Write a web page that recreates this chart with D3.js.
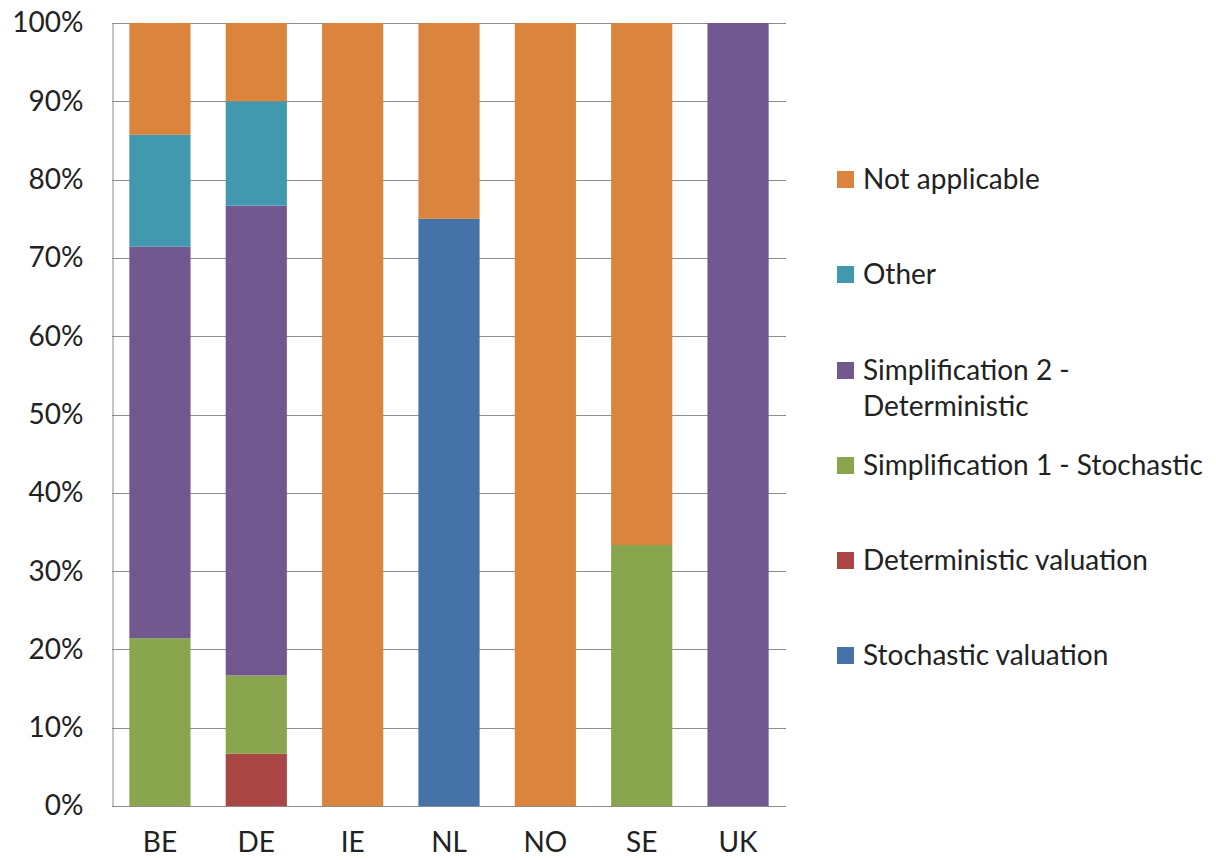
<!DOCTYPE html>
<html>
<head>
<meta charset="utf-8">
<script src="https://cdn.jsdelivr.net/npm/d3@7"></script>
<style>
  html, body { margin: 0; padding: 0; background: #fff; }
  svg { display: block; font-family: Lato, "Open Sans", sans-serif; }
</style>
</head>
<body>
<svg id="chart" width="1216" height="860"></svg>
<script>
// Countries on the x axis
const countries = ["BE", "DE", "IE", "NL", "NO", "SE", "UK"];

// Valuation approaches, stacked from the bottom up
const series = [
  "Stochastic valuation",
  "Deterministic valuation",
  "Simplification 1 - Stochastic",
  "Simplification 2 - Deterministic",
  "Other",
  "Not applicable"
];

// Share of each approach per country (%), same order as countries
const stochasticValuation    = [0,     0,     0,   75, 0,   0,     0];
const deterministicValuation = [0,     6.67,  0,   0,  0,   0,     0];
const simplification1        = [21.43, 10.0,  0,   0,  0,   33.33, 0];
const simplification2        = [50.0,  60.0,  0,   0,  0,   0,     100];
const other                  = [14.29, 13.33, 0,   0,  0,   0,     0];
const notApplicable          = [14.28, 10.0,  100, 25, 100, 66.67, 0];

const seriesValues = [stochasticValuation, deterministicValuation, simplification1,
                      simplification2, other, notApplicable];

const colors = ["#4572A7", "#AA4643", "#89A54E", "#71588F", "#4198AF", "#DB843D"];

const yTicks = [0, 10, 20, 30, 40, 50, 60, 70, 80, 90, 100];

const rows = countries.map((c, i) => {
  const r = { country: c };
  series.forEach((s, j) => { r[s] = seriesValues[j][i]; });
  return r;
});

const svg = d3.select("#chart");
const plot = { left: 112, right: 786, top: 23, bottom: 806 };

const x = d3.scaleBand().domain(countries).range([plot.left, plot.right]).paddingInner(0.365).paddingOuter(0.18);
const y = d3.scaleLinear().domain([0, 100]).range([plot.bottom, plot.top]);

// Horizontal gridlines
svg.append("g").selectAll("line").data(yTicks).join("line")
  .attr("x1", plot.left).attr("x2", plot.right)
  .attr("y1", d => Math.round(y(d)) + 0.5).attr("y2", d => Math.round(y(d)) + 0.5)
  .attr("stroke", "#8c8c8c").attr("stroke-width", 1);

// Stacked bars
const stacked = d3.stack().keys(series)(rows);
svg.append("g").selectAll("g").data(stacked).join("g")
  .attr("fill", (d, i) => colors[i])
  .selectAll("rect").data(d => d).join("rect")
  .attr("x", d => x(d.data.country))
  .attr("width", x.bandwidth())
  .attr("y", d => y(d[1]))
  .attr("height", d => y(d[0]) - y(d[1]));

// Y axis
const yAxis = d3.axisLeft(y).tickValues(yTicks).tickFormat(d => d + "%").tickSize(0).tickPadding(29);
const gy = svg.append("g").attr("transform", `translate(${plot.left + 0.5},0)`).call(yAxis);
gy.select(".domain").attr("stroke", "#8c8c8c");
gy.selectAll("text").attr("font-size", 28).attr("fill", "#222").attr("font-family", "Lato, sans-serif");

// X axis
const xAxis = d3.axisBottom(x).tickSize(0).tickPadding(26);
const gx = svg.append("g").attr("transform", `translate(0,${plot.bottom})`).call(xAxis);
gx.select(".domain").remove();
gx.selectAll("text").attr("font-size", 28).attr("fill", "#222").attr("font-family", "Lato, sans-serif");

// Legend, top entry is the last stacked series
const legendItems = [
  { name: "Not applicable", lines: ["Not applicable"], color: colors[5], y: 179 },
  { name: "Other", lines: ["Other"], color: colors[4], y: 274 },
  { name: "Simplification 2 - Deterministic", lines: ["Simplification 2 -", "Deterministic"], color: colors[3], y: 370 },
  { name: "Simplification 1 - Stochastic", lines: ["Simplification 1 - Stochastic"], color: colors[2], y: 465 },
  { name: "Deterministic valuation", lines: ["Deterministic valuation"], color: colors[1], y: 560 },
  { name: "Stochastic valuation", lines: ["Stochastic valuation"], color: colors[0], y: 655 }
];
const lg = svg.append("g").selectAll("g").data(legendItems).join("g")
  .attr("transform", d => `translate(837,${d.y})`);
lg.append("rect").attr("x", 0).attr("y", -8).attr("width", 17).attr("height", 17).attr("fill", d => d.color);
lg.append("text")
  .attr("x", 26).attr("y", 10)
  .attr("font-size", 28).attr("fill", "#222")
  .selectAll("tspan").data(d => d.lines).join("tspan")
  .attr("x", 26).attr("dy", (d, i) => i === 0 ? 0 : 36)
  .text(d => d);
</script>
</body>
</html>
